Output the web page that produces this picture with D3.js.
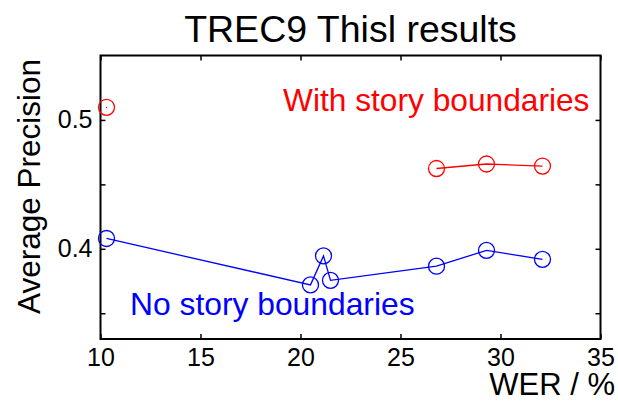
<!DOCTYPE html>
<html>
<head>
<meta charset="utf-8">
<script src="https://cdn.jsdelivr.net/npm/d3@7"></script>
<style>
  html, body { margin: 0; padding: 0; background: #fff; }
  svg { display: block; }
  text { font-family: "Liberation Sans", Arial, Helvetica, sans-serif; }
</style>
</head>
<body>
<svg id="chart" width="618" height="401"></svg>
<script>
// ---- data ----
const xTicks = [10, 15, 20, 25, 30, 35];
const yTicks = [0.35, 0.4, 0.45, 0.5];
const yTickLabels = ["", "0.4", "", "0.5"];

const noStoryWER = [10.3, 20.5, 21.15, 21.5, 26.8, 29.3, 32.1];
const noStoryAP  = [0.408, 0.372, 0.3945, 0.3755, 0.3865, 0.3988, 0.3918];

const withStoryWER = [26.8, 29.3, 32.1];
const withStoryAP  = [0.4623, 0.4658, 0.4642];

const withStoryBaselineWER = [10.3];
const withStoryBaselineAP  = [0.5098];

const titleText = "TREC9 Thisl results";
const xLabel = "WER / %";
const yLabel = "Average Precision";
const redLabel = "With story boundaries";
const blueLabel = "No story boundaries";

// ---- drawing ----
(function () {
const svg = d3.select("#chart");
const pL = 100.5, pR = 600.5, pT = 55.5, pB = 339;
const x = d3.scaleLinear().domain([10, 35]).range([pL, pR]);
const y = d3.scaleLinear().domain([0.33, 0.55]).range([pB, pT]);

const font = '"Liberation Sans", Arial, Helvetica, sans-serif';

// box
svg.append("rect")
  .attr("x", pL).attr("y", pT)
  .attr("width", pR - pL).attr("height", pB - pT)
  .attr("fill", "none").attr("stroke", "#000").attr("stroke-width", 2);

function styleAxis(g, showText) {
  g.select(".domain").remove();
  g.selectAll(".tick line").attr("stroke", "#000").attr("stroke-width", 1.5);
  g.selectAll(".tick text")
    .attr("fill", "#000")
    .style("font-family", font)
    .style("font-size", "25px");
  if (!showText) g.selectAll(".tick text").remove();
}

// bottom axis
svg.append("g")
  .attr("transform", `translate(0,${pB})`)
  .call(d3.axisBottom(x).tickValues(xTicks).tickSizeInner(-5).tickSizeOuter(0).tickPadding(9).tickFormat(d3.format("d")))
  .call(g => styleAxis(g, true));

// top axis (ticks only)
svg.append("g")
  .attr("transform", `translate(0,${pT})`)
  .call(d3.axisTop(x).tickValues(xTicks).tickSizeInner(-5).tickSizeOuter(0))
  .call(g => styleAxis(g, false));

// left axis
svg.append("g")
  .attr("transform", `translate(${pL},0)`)
  .call(d3.axisLeft(y).tickValues(yTicks).tickSizeInner(-5).tickSizeOuter(0).tickPadding(8)
    .tickFormat((d, i) => yTickLabels[i]))
  .call(g => styleAxis(g, true));

// right axis (ticks only)
svg.append("g")
  .attr("transform", `translate(${pR},0)`)
  .call(d3.axisRight(y).tickValues(yTicks).tickSizeInner(-5).tickSizeOuter(0))
  .call(g => styleAxis(g, false));

// lines
const line = d3.line().x(d => x(d[0])).y(d => y(d[1]));
const bluePts = noStoryWER.map((w, i) => [w, noStoryAP[i]]);
const redPts = withStoryWER.map((w, i) => [w, withStoryAP[i]]);
const redBase = withStoryBaselineWER.map((w, i) => [w, withStoryBaselineAP[i]]);

svg.append("path").datum(bluePts).attr("d", line)
  .attr("fill", "none").attr("stroke", "#0000ff").attr("stroke-width", 1.3);
svg.append("path").datum(redPts).attr("d", line)
  .attr("fill", "none").attr("stroke", "#ff0000").attr("stroke-width", 1.3);

function markers(pts, color) {
  svg.append("g").selectAll("circle").data(pts).join("circle")
    .attr("cx", d => x(d[0])).attr("cy", d => y(d[1])).attr("r", 8)
    .attr("fill", "none").attr("stroke", color).attr("stroke-width", 1.3);
}
markers(bluePts, "#0000ff");
markers(redPts, "#ff0000");
markers(redBase, "#ff0000");
svg.append("g").selectAll("circle").data(redBase).join("circle")
  .attr("cx", d => x(d[0])).attr("cy", d => y(d[1])).attr("r", 0.6)
  .attr("fill", "#ff0000");

// title
svg.append("text").attr("x", (pL + pR) / 2).attr("y", 42)
  .attr("text-anchor", "middle").style("font-size", "37.5px").attr("fill", "#000")
  .text(titleText);

// x label
svg.append("text").attr("x", 615).attr("y", 395)
  .attr("text-anchor", "end").style("font-size", "31px").attr("fill", "#000")
  .text(xLabel);

// y label
svg.append("text")
  .attr("transform", `translate(40,186.5) rotate(-90)`)
  .attr("text-anchor", "middle").style("font-size", "31.5px").attr("fill", "#000")
  .text(yLabel);

// annotations
svg.append("text").attr("x", 283).attr("y", 111)
  .style("font-size", "31.7px").attr("fill", "#ff0000").text(redLabel);
svg.append("text").attr("x", 130).attr("y", 315)
  .style("font-size", "31.8px").attr("fill", "#0000ff").text(blueLabel);
})();
</script>
</body>
</html>
